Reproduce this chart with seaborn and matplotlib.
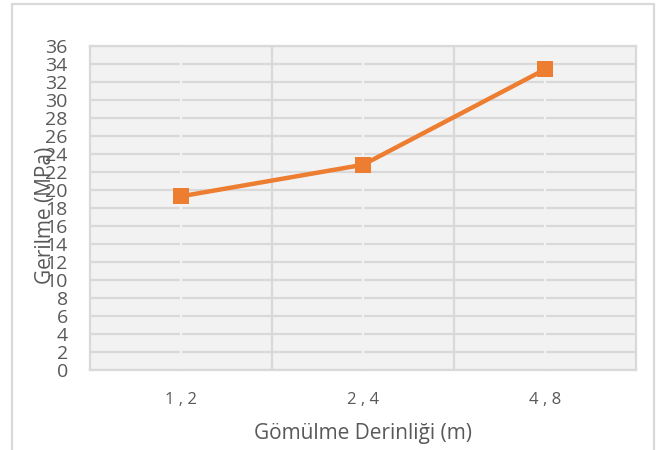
import matplotlib
matplotlib.use("Agg")
import matplotlib.pyplot as plt
from matplotlib.lines import Line2D
import seaborn as sns
import pandas as pd

# Embedment depth categories and the measured stress at each
depth_labels = ["1 , 2", "2 , 4", "4 , 8"]
stress_mpa = [19.3, 22.8, 33.4]
y_ticks = list(range(0, 37, 2))

df = pd.DataFrame({"depth": depth_labels, "stress": stress_mpa})

sns.set_theme(style="white")
plt.rcParams["font.family"] = ["Open Sans", "DejaVu Sans"]

text_col = "#595959"
grid_col = "#D9D9D9"
line_col = "#ED7D31"
bg_col = "#F2F2F2"

fig = plt.figure(figsize=(6.58, 4.50), dpi=100)
ax = fig.add_axes([90 / 658, 80 / 450, 546 / 658, 324 / 450])
ax.set_facecolor(bg_col)

sns.lineplot(data=df, x="depth", y="stress", ax=ax, color=line_col,
             linewidth=3.2, marker="s", markersize=12, markeredgewidth=0,
             sort=False, zorder=5)

ax.set_xlim(-0.5, len(depth_labels) - 0.5)
ax.set_ylim(0, 36)
ax.set_yticks(y_ticks)
ax.set_yticklabels([str(t) for t in y_ticks], fontsize=14, color=text_col)
ax.set_xticks(range(len(depth_labels)))
ax.set_xticklabels(depth_labels, fontsize=12, color=text_col)
ax.tick_params(axis="y", length=0, pad=16)
ax.tick_params(axis="x", length=0, pad=16)

# horizontal gridlines and vertical lines at category boundaries
for t in y_ticks:
    ax.axhline(t, color=grid_col, linewidth=1.6, zorder=1)
for b in [0.5, 1.5]:
    ax.axvline(b, color=grid_col, linewidth=1.6, zorder=1)
# small breaks in the horizontal gridlines at category centres
for c in range(len(depth_labels)):
    ax.axvline(c, color=bg_col, linewidth=1.6, zorder=2)

for s in ax.spines.values():
    s.set_visible(True)
    s.set_color(grid_col)
    s.set_linewidth(1.6)

ax.set_xlabel("Gömülme Derinliği (m)", fontsize=15, color=text_col, labelpad=11)
ax.set_ylabel("Gerilme (MPa)", fontsize=15, color=text_col)
ax.yaxis.set_label_coords(-0.062, 0.478)

# outer chart frame
fx0, fx1, fy1 = 12 / 658, 654 / 658, 1 - 4 / 450
for xs, ys in [([fx0, fx0], [0, fy1]), ([fx0, fx1], [fy1, fy1]), ([fx1, fx1], [fy1, 0])]:
    fig.add_artist(Line2D(xs, ys, color=grid_col, linewidth=1.6, transform=fig.transFigure))

fig.savefig("out.png", dpi=100)
